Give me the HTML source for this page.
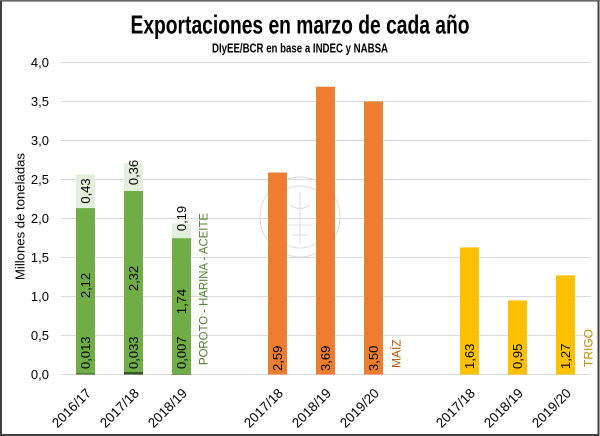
<!DOCTYPE html>
<html><head><meta charset="utf-8"><style>
html,body{margin:0;padding:0;background:#fff;}
svg{display:block;}
text{font-family:"Liberation Sans",sans-serif;}
</style></head><body>
<svg width="600" height="436" viewBox="0 0 600 436" xmlns="http://www.w3.org/2000/svg">
<rect x="0" y="0" width="600" height="436" fill="#fff"/>
<!-- border -->
<rect x="1" y="0.5" width="597.5" height="434.5" fill="none" stroke="#404040" stroke-width="2"/>
<line x1="0" y1="0.5" x2="600" y2="0.5" stroke="#6a6a6a" stroke-width="1"/>

<!-- title -->
<text x="300" y="33.7" text-anchor="middle" font-size="26" font-weight="bold" textLength="339" lengthAdjust="spacingAndGlyphs" fill="#000">Exportaciones en marzo de cada año</text>
<text x="300" y="52.4" text-anchor="middle" font-size="12.5" font-weight="bold" textLength="176" lengthAdjust="spacingAndGlyphs" fill="#000">DIyEE/BCR en base a INDEC y NABSA</text>

<!-- watermark -->
<g fill="none" stroke="#dcdcdc" stroke-width="1">
<circle cx="300" cy="217" r="40"/>
<circle cx="300" cy="217" r="31"/>
<path d="M300 192 L300 245 M290 205 Q300 212 310 205 M288 225 L312 225 M292 235 L308 235"/>
</g>

<!-- gridlines -->
<g stroke="#d9d9d9" stroke-width="1">
<line x1="61" y1="62.5" x2="591" y2="62.5"/>
<line x1="61" y1="101.5" x2="591" y2="101.5"/>
<line x1="61" y1="140.5" x2="591" y2="140.5"/>
<line x1="61" y1="179.5" x2="591" y2="179.5"/>
<line x1="61" y1="218.5" x2="591" y2="218.5"/>
<line x1="61" y1="257.5" x2="591" y2="257.5"/>
<line x1="61" y1="296.5" x2="591" y2="296.5"/>
<line x1="61" y1="335.5" x2="591" y2="335.5"/>
<line x1="61" y1="374.5" x2="591" y2="374.5"/>
</g>

<!-- y tick labels -->
<g font-size="13" fill="#000" text-anchor="end">
<text x="49" y="67">4,0</text>
<text x="49" y="106">3,5</text>
<text x="49" y="145">3,0</text>
<text x="49" y="184">2,5</text>
<text x="49" y="223">2,0</text>
<text x="49" y="262">1,5</text>
<text x="49" y="301">1,0</text>
<text x="49" y="340">0,5</text>
<text x="49" y="379">0,0</text>
</g>
<text transform="translate(24.5,216.5) rotate(-90)" text-anchor="middle" font-size="13" fill="#000" textLength="127" lengthAdjust="spacingAndGlyphs">Millones de toneladas</text>

<!-- green bars -->
<rect x="76" y="174.6" width="19" height="33.5" fill="#e2efda"/>
<rect x="76" y="208.1" width="19" height="165.4" fill="#70ad47"/>
<rect x="76" y="373.5" width="19" height="1" fill="#375623"/>

<rect x="124" y="162.9" width="19" height="28.1" fill="#e2efda"/>
<rect x="124" y="191" width="19" height="181" fill="#70ad47"/>
<rect x="124" y="372" width="19" height="2.6" fill="#375623"/>

<rect x="172" y="223.4" width="19" height="14.8" fill="#e2efda"/>
<rect x="172" y="238.2" width="19" height="135.8" fill="#70ad47"/>
<rect x="172" y="374" width="19" height="0.6" fill="#375623"/>

<!-- orange bars -->
<rect x="268" y="172.5" width="19" height="202" fill="#ed7d31"/>
<rect x="316" y="86.7" width="19" height="287.8" fill="#ed7d31"/>
<rect x="364" y="101.5" width="19" height="273" fill="#ed7d31"/>

<!-- yellow bars -->
<rect x="460" y="247.4" width="19" height="127.1" fill="#ffc000"/>
<rect x="508" y="300.4" width="19" height="74.1" fill="#ffc000"/>
<rect x="556" y="275.4" width="19" height="99.1" fill="#ffc000"/>

<!-- bar labels -->
<g font-size="13" fill="#000">
<text transform="translate(90,191) rotate(-90)" text-anchor="middle">0,43</text>
<text transform="translate(90,285.5) rotate(-90)" text-anchor="middle">2,12</text>
<text transform="translate(90,369) rotate(-90)">0,013</text>

<text transform="translate(138,172.5) rotate(-90)" text-anchor="middle">0,36</text>
<text transform="translate(138,278.5) rotate(-90)" text-anchor="middle">2,32</text>
<text transform="translate(138,369) rotate(-90)">0,033</text>

<text transform="translate(186,218.5) rotate(-90)" text-anchor="middle">0,19</text>
<text transform="translate(186,301.5) rotate(-90)" text-anchor="middle">1,74</text>
<text transform="translate(186,369) rotate(-90)">0,007</text>

<text transform="translate(282,371) rotate(-90)">2,59</text>
<text transform="translate(330,371) rotate(-90)">3,69</text>
<text transform="translate(378,371) rotate(-90)">3,50</text>

<text transform="translate(474,369) rotate(-90)">1,63</text>
<text transform="translate(522,369) rotate(-90)">0,95</text>
<text transform="translate(570,369) rotate(-90)">1,27</text>
</g>

<!-- series labels -->
<text transform="translate(207.5,365) rotate(-90)" font-size="12" fill="#548235" textLength="152" lengthAdjust="spacingAndGlyphs">POROTO - HARINA - ACEITE</text>
<text transform="translate(400.5,368) rotate(-90)" font-size="12" fill="#c55a11">MAÍZ</text>
<text transform="translate(592.5,367) rotate(-90)" font-size="12" fill="#bf9000">TRIGO</text>

<!-- x labels -->
<g font-size="13.5" fill="#000" text-anchor="end">
<text transform="translate(92,394) rotate(-45)">2016/17</text>
<text transform="translate(140,394) rotate(-45)">2017/18</text>
<text transform="translate(188,394) rotate(-45)">2018/19</text>
<text transform="translate(284,394) rotate(-45)">2017/18</text>
<text transform="translate(332,394) rotate(-45)">2018/19</text>
<text transform="translate(380,394) rotate(-45)">2019/20</text>
<text transform="translate(476,394) rotate(-45)">2017/18</text>
<text transform="translate(524,394) rotate(-45)">2018/19</text>
<text transform="translate(572,394) rotate(-45)">2019/20</text>
</g>
</svg>
</body></html>
